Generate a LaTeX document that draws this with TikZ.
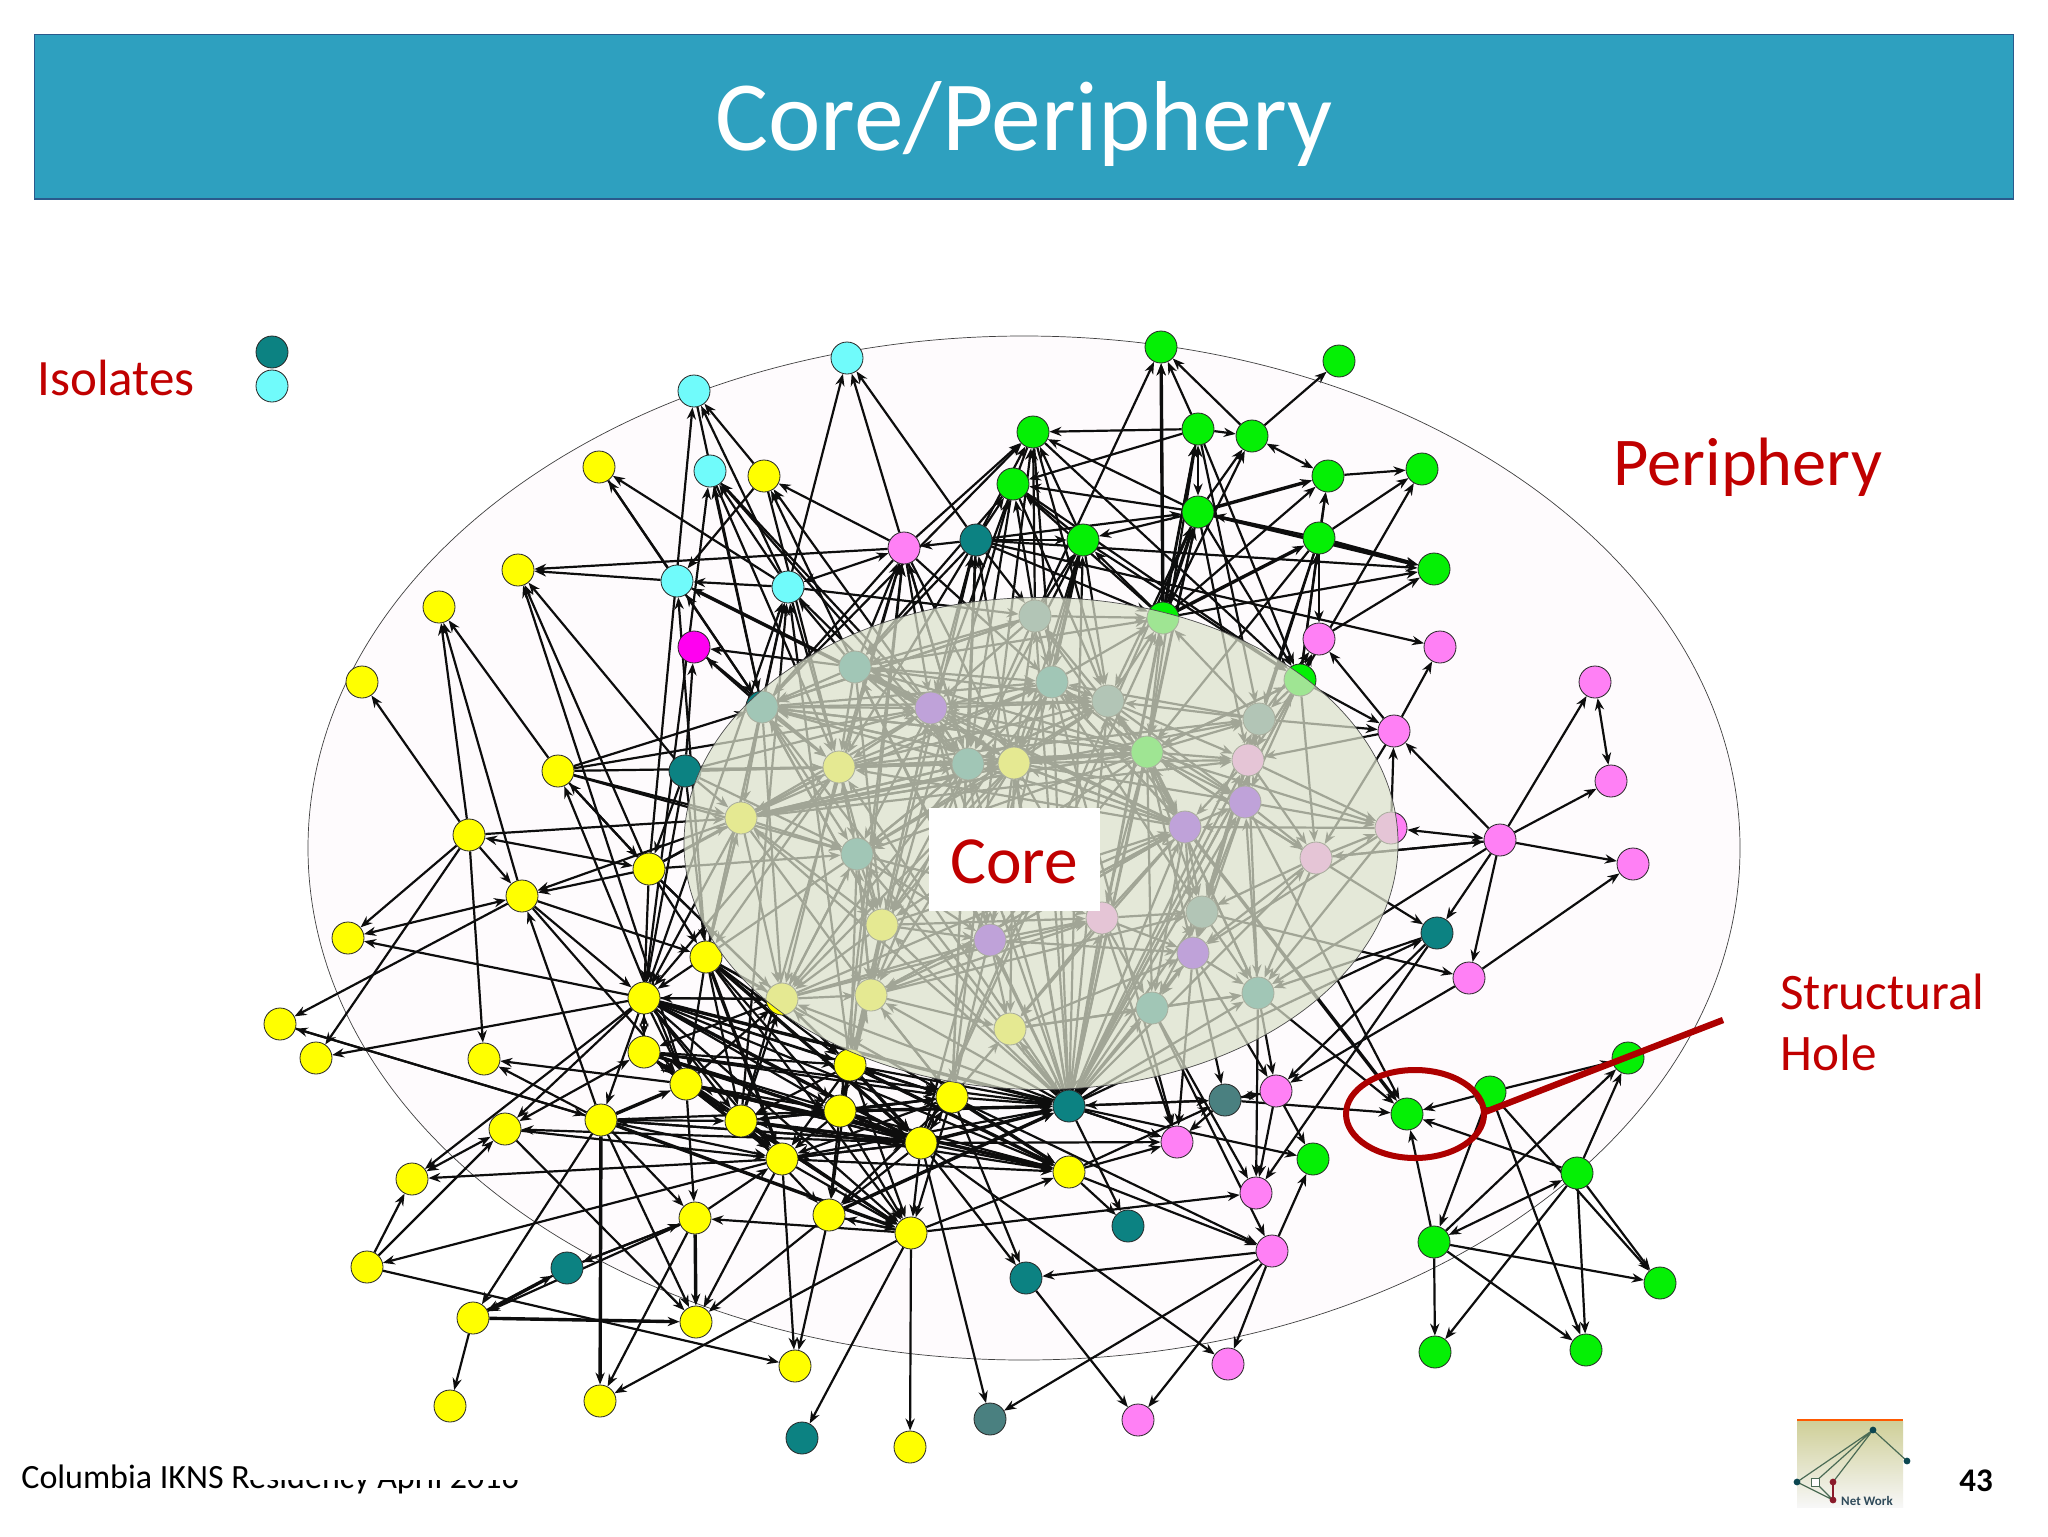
\documentclass[tikz,border=0pt]{standalone}
\usepackage{fontspec}
\setmainfont{Carlito}
\usetikzlibrary{arrows.meta,calc}
\definecolor{hdr}{HTML}{2EA0BF}
\definecolor{hdrl}{HTML}{2A5A8C}
\definecolor{rd}{HTML}{C00000}
\definecolor{cy}{HTML}{70FBFB}
\definecolor{yl}{HTML}{FFFF00}
\definecolor{gr}{HTML}{05F005}
\definecolor{pk}{HTML}{FF80F5}
\definecolor{te}{HTML}{0C8282}
\definecolor{gt}{HTML}{4A8080}
\definecolor{mg}{HTML}{FF00F0}
\definecolor{pu}{HTML}{7800FF}
\definecolor{ovl}{RGB}{219,225,203}
\definecolor{pale}{HTML}{FEFBFD}
\definecolor{logot}{HTML}{0B4650}
\definecolor{logom}{HTML}{8A1A2A}
\definecolor{logol}{HTML}{4B6B55}
\definecolor{logotop}{HTML}{CFCF98}
\definecolor{logobot}{HTML}{F7F7F7}
\definecolor{logotx}{HTML}{2F4A5A}
\pgfdeclarelayer{bg}\pgfdeclarelayer{edges}\pgfdeclarelayer{over}
\pgfsetlayers{bg,edges,main,over}
\tikzset{
 nd/.style={circle,draw=black!85,line width=0.4pt,minimum size=16pt,inner sep=0pt},
 ey/.style={nd,fill=yl},eg/.style={nd,fill=gr},ep/.style={nd,fill=pk},ec/.style={nd,fill=cy},
 et/.style={nd,fill=te},egt/.style={nd,fill=gt},em/.style={nd,fill=mg},eu/.style={nd,fill=pu},
 edge/.style={draw=black!95,line width=1.1pt,-{Stealth[length=6pt,width=4.6pt]}},
 thk/.style={edge,line width=1.7pt},
 bi/.style={edge,{Stealth[length=6pt,width=4.6pt]}-{Stealth[length=6pt,width=4.6pt]}},
 lbl/.style={text=rd,inner sep=0pt,anchor=west},
}
\begin{document}
\begin{tikzpicture}[x=0.5pt,y=-0.5pt]
\useasboundingbox (0,0) rectangle (2048,1536);
\begin{pgfonlayer}{bg}
\fill[white] (0,0) rectangle (2048,1536);
\node[inner sep=0pt,anchor=base west,font=\fontsize{17}{19}\selectfont,text=black] (foot) at (21,1488) {Columbia IKNS Residency April 2016};
\fill[white] (248,330) rectangle (1730,1480);
\draw[fill=pale,draw=black!75,line width=0.35pt] (1024,848) ellipse [x radius=716,y radius=512];
\end{pgfonlayer}
% header
\node[draw=hdrl,fill=hdr,line width=0.9pt,minimum width=989.5pt,minimum height=82.2pt,inner sep=0pt,outer sep=0pt,anchor=north west] (bar) at (34.5,34.5) {};
\node[text=white,font=\fontsize{49.7}{52}\selectfont,inner sep=0pt] (title) at (1024,124) {Core/Periphery};
% periphery nodes
\foreach \n/\x/\y in {y1/599/467,y2/764/476,y3/518/570,y4/439/607,y5/362/682,y6/558/771,y7/469/835,y8/649/869,y9/522/896,y10/348/938,y12/706/957,y13/644/998,y14/280/1024,y15/316/1058,y16/484/1059,y17/644/1052,y18/686/1084,y19/850/1065,y20/952/1097,y21/840/1111,y22/741/1121,y23/601/1120,y24/505/1129,y25/921/1143,y26/782/1159,y27/412/1179,y28/695/1218,y29/829/1215,y30/911/1233,y31/367/1267,y32/473/1318,y33/696/1322,y34/795/1366,y35/450/1406,y36/600/1401,y37/910/1447,y38/1069/1172}
  \node[ey] (\n) at (\x,\y) {};
\foreach \n/\x/\y in {g1/1161/347,g2/1339/361,g3/1033/432,g4/1198/429,g5/1252/436,g6/1328/476,g7/1422/469,g8/1013/484,g9/1198/512,g10/1083/540,g11/1319/538,g12/1434/569,g13/1163/618,g14/1300/680,g15/1628/1058,g16/1490/1092,g17/1407/1114,g18/1313/1159,g19/1577/1173,g20/1434/1242,g21/1660/1283,g22/1435/1352,g23/1586/1350,nM/1147/752}
  \node[eg] (\n) at (\x,\y) {};
\foreach \n/\x/\y in {pk1/904/548,pk2/1319/639,pk3/1440/647,pk4/1595/682,pk5/1394/731,pk6/1611/781,pk7/1391/828,pk8/1500/840,pk9/1633/864,pk10/1469/978,pk11/1276/1091,pk12/1177/1142,pk13/1256/1193,pk14/1272/1251,pk15/1228/1364,pk16/1138/1420,nN/1248/760,nQ/1316/858,nX/1102/918}
  \node[ep] (\n) at (\x,\y) {};
\foreach \n/\x/\y in {iA/272/352,t1/976/540,t2/685/771,t3/567/1268,t4/1026/1278,t6/802/1438,t7/1437/933,t9/1069/1106,t10/1128/1226,nB/855/667,nC/1052/682,nD/762/707,nG/968/764,nJ/857/854,nZ/1258/993,nAA/1152/1008}
  \node[et] (\n) at (\x,\y) {};
\foreach \n/\x/\y in {t5/990/1419,t8/1225/1100,nA/1035/616,nK/1108/701,nL/1259/719,nR/1202/912}
  \node[egt] (\n) at (\x,\y) {};
\foreach \n/\x/\y in {iB/272/386,c1/694/391,c2/847/358,c3/710/471,c4/677/581,c5/788/587}
  \node[ec] (\n) at (\x,\y) {};
\node[em] (mag) at (694,647) {};
\foreach \n/\x/\y in {nE/931/708,nO/1245/802,nP/1185/827,nT/990/940,nY/1193/953}
  \node[eu] (\n) at (\x,\y) {};
\foreach \n/\x/\y in {nF/839/767,nH/1014/763,nI/741/818,nS/882/925,nU/782/999,nV/871/995,nW/1010/1029}
  \node[ey] (\n) at (\x,\y) {};
% edges
\begin{pgfonlayer}{edges}
\foreach \a/\b in {y7/y5,y7/y4,y9/y4,y6/y4,y8/y3,t2/y3,y18/y3,pk1/y3,c4/y3,c5/c4,y8/c1,c5/c1,y2/c1,nD/c3,c5/c3,nE/c3,pk1/y2,nE/y2,nB/y2,y2/c4,c4/y1,c5/y1,c5/c2,pk1/c2,t1/c2,pk1/g3,nD/g3,t1/pk1,nB/pk1,nG/pk1,nD/c5,nB/c5,c5/nA,nB/mag,nD/mag,t2/mag,nD/c4,y6/nD,y6/nE,y6/nI,y6/nF,y6/y8,y8/y6,y18/y6,y7/nI,y8/y9,nI/y9,y7/y10,y7/y16,y7/y9,t1/g8,t1/nB,t1/g3,t1/nE,t1/nF,t1/nA,t1/g12,t1/nG,
g13/g1,g4/g1,g5/g1,g5/g2,g4/g3,g10/g3,nA/g3,g9/g3,g4/g8,g9/g8,g9/g10,g4/g5,g6/g7,g11/g7,g14/g7,g11/g9,g13/g12,pk2/g12,g13/g10,t1/pk3,pk5/pk3,pk5/pk2,nL/pk2,g14/pk2,g4/g14,g9/g14,g11/pk2,g13/g4,g13/g6,pk8/pk5,pk8/nQ,pk7/pk5,g14/pk5,pk8/pk4,pk8/pk6,pk8/pk9,nQ/pk8,pk10/pk9,pk8/t7,pk8/pk10,nA/g1,g13/g8,g10/g8,g11/g6,g14/g6,g14/g11,nA/g8,nA/g10,g9/g5,g13/g5,nM/g13,nA/g13,nB/g13,nC/g13,nL/g13,nK/g13,g10/g14,g8/g14,t1/g9,t1/g13,t1/g10,g3/g14,g8/nK,
nQ/t7,t9/t7,nR/pk10,pk10/pk11,t7/pk11,nZ/g17,nO/g17,g16/g17,g19/g17,g20/g17,t8/g17,g16/g15,g19/g15,g20/g15,g16/g20,g16/g21,g16/g23,g19/g21,g19/g23,g19/g22,g20/g21,g20/g22,g20/g23,nZ/pk11,nY/pk11,pk11/pk13,pk11/g18,nZ/pk13,nAA/pk13,t7/pk13,t9/g18,t9/pk12,nY/pk12,nX/pk12,nY/t8,pk11/t8,nAA/pk14,pk14/t4,pk14/g18,pk14/pk15,pk14/pk16,pk14/t5,y30/pk13,y38/pk14,t9/t10,y25/pk15,t7/nZ,t4/pk16,y25/t4,y20/t4,nC/pk12,nL/pk5,
y9/y14,y23/y14,y13/y10,y13/y15,y7/y15,y23/y16,y18/y16,y9/y13,y23/y9,y9/y12,y13/y24,y24/y33,y24/y26,y13/y27,y26/y27,y31/y27,y31/y24,y26/y31,y31/y34,y28/y32,t3/y32,y23/y32,y32/y35,y28/y36,y30/y36,y23/y33,y26/y33,y29/y33,y26/y34,y29/y34,y30/t6,y30/y37,y25/t5,y18/y28,y23/y28,y30/y28,y28/y26,t3/y28,y28/t3,y23/y25,y23/y21,y23/y22,y23/y26,y23/y30,y13/y23,y13/y17,y17/y13,y18/y22,y18/y21,y18/y30,y18/y25,y18/y26,y22/y26,y22/y21,y21/y22,y21/y26,y21/y25,y25/y21,y25/y26,y26/y25,y26/y30,y25/y30,y25/y29,y29/y30,y19/y21,y19/y22,y19/y25,y19/y26,y19/y30,y20/y25,y25/y20,y20/y21,y20/y26,y20/y30,y21/y20,y17/y21,y17/y22,y17/y25,y17/y18,y18/y17,y12/y18,y12/y22,y12/y25,y12/y21,y12/y20,y13/y19,y13/y20,y13/y21,y13/y22,y13/y25,y13/y26,y13/y38,y13/t9,y17/y20,y17/t9,y19/y20,y20/y38,y20/t9,y25/y38,y25/t9,y22/y38,y21/y38,y19/y38,y30/y38,y26/y38,y26/t9,y21/t9,y19/t9,y29/t9,y30/y29,y25/y23,y25/y22,y25/y24,y25/y18,y22/y20,y22/y25,y12/nU,y12/nI,y13/nU,y19/nU,y19/nV,y20/nW,y20/nV,y21/nV,y22/nU,y18/nU,y38/t10,y38/t8,t9/t8,t8/pk11,t8/pk12,t9/pk12,y20/pk14,y25/pk12,y20/y19,nU/y17,nV/y20,nW/t9,nU/y13,nV/y19,t1/y20,nD/y12,nF/y12,nI/y12,nI/y13,nF/y13,nJ/y13,nJ/y19,nS/y19,t2/y12,t2/y8,t2/y13,y8/y12,y8/y13,y8/y19,y8/nI,y9/y18,t9/t1,g14/t9,y14/y23,y38/pk12,
y19/y29,y20/y29,y12/y30,y13/y30,y17/y30,y17/y26,y22/y30,y22/y29,y21/y30,y21/y29,y17/y19,y12/y19,y13/y18,
y19/pk1,y19/c5,y20/t1,y20/g10,y20/g3,y22/c5,y22/pk1,y25/g13,y25/g10,y25/g9,y19/g8,y12/c4,y12/c5,y13/c3,y13/c5,y21/t1,y21/pk1,t9/g9,t9/g4,t9/g10,t9/g14,
nA/nB,nA/nC,nA/nD,nA/nE,nA/nG,nA/nH,nB/nD,nB/nE,nB/nF,nB/nG,nB/nC,nC/nE,nC/nH,nC/nK,nC/nG,nD/nE,nD/nF,nD/nI,nD/nJ,nE/nF,nE/nG,nE/nH,nE/nJ,nF/nG,nF/nI,nF/nJ,nG/nH,nG/nJ,nI/nJ,nI/nU,nI/nV,nJ/nS,nJ/nU,nJ/nV,nJ/nF,nF/nS,nG/nS,nH/nS,nH/nT,nG/nT,nS/nT,nS/nV,nS/nU,nT/nV,nT/nW,nV/nW,nU/nV,nT/nX,nH/nX,nX/nAA,nX/nY,nX/nW,nX/nR,nX/nP,nP/nR,nP/nY,nP/nO,nO/nN,nO/nL,nN/nL,nN/nQ,nO/nQ,nO/pk7,nQ/pk7,nN/pk7,nL/nC,nL/nK,nK/nP,nK/nO,nK/nN,nK/nE,nK/nG,nY/nZ,nR/nZ,nR/nY,nR/nAA,nY/nAA,nAA/nZ,nQ/nR,nQ/nZ,nQ/nY,nO/nR,nO/nY,nH/nP,nH/nO,nH/nN,nG/nK,nB/nK,nE/nK,nC/nP,nC/nO,nC/nR,nB/nH,nD/nH,nF/nH,nI/nG,nI/nH,nI/nE,nI/nS,nJ/nT,nJ/nX,nD/nU,nF/nU,y6/nJ,y8/nJ,y8/nF,y8/nU,t2/nF,t2/nI,t2/nE,t2/nG,t2/nJ,mag/nF,c4/nE,pk1/nE,pk1/nD,pk1/nF,pk1/nG,pk1/nH,pk1/nC,y2/nF,c5/nF,c5/nG,c3/nF,c3/nG,y1/nD,c1/nD,g10/nC,g10/nH,g10/nK,g8/nB,g8/nG,g3/nE,g3/nC,g3/nK,g10/nG,g9/nK,g9/nM,g9/nN,g4/nM,g4/nL,g11/nM,g11/nL,g11/nN,g14/nN,g14/nL,g14/nO,g14/nQ,g14/nM,pk5/nQ,pk5/nN,pk7/nP,pk7/nY,pk7/nZ,pk8/nZ,nQ/nM,nZ/nM,nZ/nO,nL/nR,nL/nY,nN/nR,nN/nY,nN/nP,nN/nZ,nP/nA,nP/nB,nP/nC,nP/nE,nP/nF,nP/nG,nP/nH,nP/nK,nP/nT,nP/nV,nP/nW,nP/nAA,nB/nS,nD/nS,nE/nS,nC/nS,nH/nB,nH/nD,nH/nF,nH/nI,nH/nJ,nH/nU,nH/nV,nH/nW,nH/nK,nH/nC,nG/nI,nG/nD,nG/nF,nG/nU,nG/nV,nG/nE,
nI/nL,nD/nA,nI/nC,nF/nM,nF/nL,nG/nM,nI/nM,nI/nN,nD/nM,nD/nK,nD/nC,nF/nK,nF/nC,nJ/nG,nJ/nK,nU/nT,nU/nX,nU/nP,nV/nX,nV/nR,nV/nP,nS/nX,nS/nP,nT/nP,nT/nY,nW/nY,nW/nZ,nW/nAA,nU/nJ,nV/nJ,nS/nE,nS/nD,nT/nE,nT/nB}
  \draw[edge] (\a) -- (\b);
\foreach \b in {nJ,nF,nG,nH,nE,nB,nA,nC,nK,nP,nX,nO,nR,nY,nV,nS,nT,nW,nAA,nZ,nN,nL,nI,nD,nQ,g13,nU}
  \draw[edge] (t9) -- (\b);
\foreach \b in {nA,nB,nC,nD,nE,nG,nH,nK,nL,nN,nO,nP,nQ,nX,nR,nY,nT,nS,nF,nI,nJ,nZ,nAA,t9,g14,pk7}
  \draw[edge] (nM) -- (\b);
\foreach \a/\b in {c5/pk1,y8/y7,y10/y9,y17/y24,y27/y24,pk4/pk6,pk7/pk8,g19/g20,g4/g9,t9/t8,g5/g6}
  \draw[bi] (\a) -- (\b);
\foreach \a/\b in {nE/c4,g13/g1,g13/g9,g9/g6,g13/g11,g9/g12,g11/g12,y23/y36,y28/y33,y32/y33,y32/t3,y23/y18,y22/y25,y21/y25,y18/y26,y13/y25,y13/t9,y12/y26,y19/y38,y18/y38,y20/y38,y21/t9,y25/t9,y29/t9,nP/g17,y23/y30,y17/y25,y12/y25,y19/y25}
  \draw[thk] (\a) -- (\b);
\end{pgfonlayer}
% overlay
\begin{pgfonlayer}{over}
\fill[ovl,fill opacity=0.72] (1041,843.5) ellipse [x radius=357,y radius=246];
\draw[black!70,line width=0.35pt] (1041,843.5) ellipse [x radius=357,y radius=246];
\node[fill=white,minimum width=85.5pt,minimum height=51.5pt,inner sep=0pt,anchor=north west] (corebox) at (929,808) {};
\node[text=rd,font=\fontsize{33.7}{36}\selectfont,inner sep=0pt] (core) at (1014,862) {Core};
\node[lbl,font=\fontsize{25.5}{27}\selectfont] (iso) at (37,378) {Isolates};
\node[lbl,font=\fontsize{34.2}{37}\selectfont] (per) at (1613,467) {Periphery};
\node[lbl,font=\fontsize{25.6}{27}\selectfont] (st) at (1780,992) {Structural};
\node[lbl,font=\fontsize{25.6}{27}\selectfont] (ho) at (1780,1053) {Hole};
\draw[draw=rd!90!black,line width=3pt] (1415,1114) ellipse [x radius=69,y radius=44];
\coordinate (ha) at (1485,1112);
\coordinate (hb) at (1723,1020);
\draw[draw=rd!90!black,line width=3.2pt] (ha) -- (hb);
% logo
\shade[top color=logotop,bottom color=logobot] (1797,1421) rectangle (1903,1507);
\draw[orange!70!red,line width=0.7pt] (1797,1420) -- (1903,1420);
\coordinate (la) at (1873,1430);
\coordinate (lb) at (1907,1461);
\coordinate (lc) at (1797,1482);
\coordinate (ld) at (1815,1482);
\coordinate (le) at (1833,1482);
\coordinate (lf) at (1833,1500);
\draw[logol,line width=0.6pt] (lb) -- (la) -- (lc) -- (lf) -- (ld) -- (la) -- (le);
\draw[logom,line width=0.6pt] (le) -- (lf);
\fill[logot] (la) circle (1.7pt) (lb) circle (1.7pt) (lc) circle (1.7pt);
\fill[logom] (le) circle (1.7pt) (lf) circle (1.7pt);
\draw[fill=white,draw=logol,line width=0.4pt] (1811,1478) rectangle (1819,1486);
\node[inner sep=0pt,font=\fontsize{6.5}{7}\bfseries\selectfont,text=logotx] (nw) at (1867,1501) {Net Work};
\node[inner sep=0pt,font=\fontsize{16.5}{18}\bfseries\selectfont] (num) at (1976,1481) {43};
\end{pgfonlayer}
\end{tikzpicture}
\end{document}
